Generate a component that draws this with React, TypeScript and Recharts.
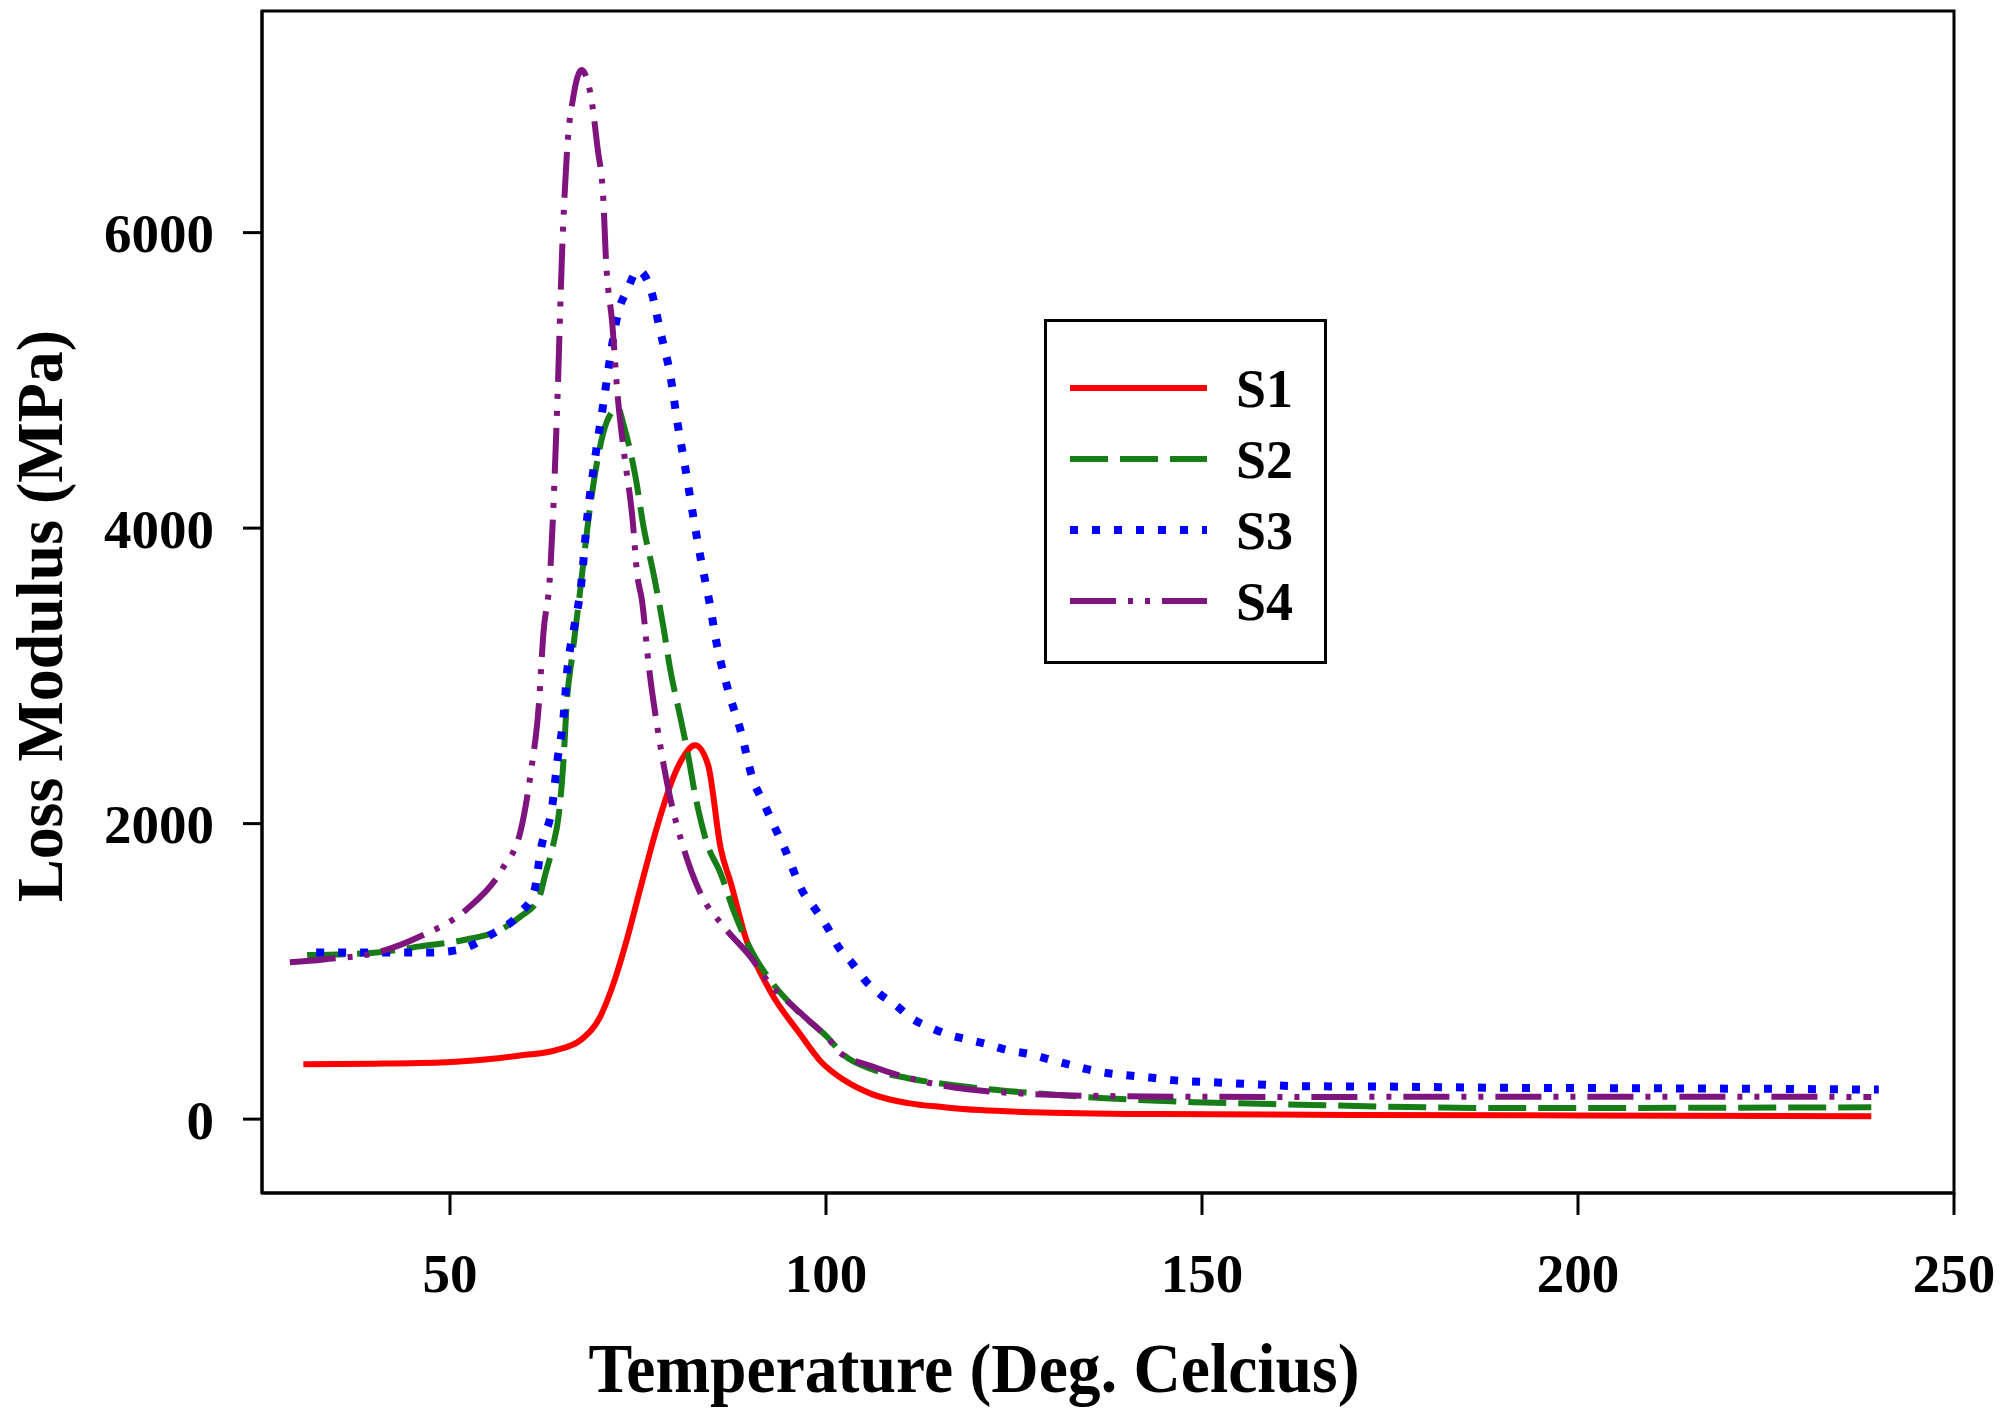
import { LineChart, Line, XAxis, YAxis, Legend, Label, ReferenceArea } from 'recharts'

// Temperature (deg C) and loss modulus (MPa) for each sample
const s1Temp = [30.5, 40, 49.5, 55, 59.5, 64, 67.5, 70, 71.7, 73.6, 75.1, 76.5, 77.9, 79.3, 80.8, 82.6, 84.3, 86, 87.4, 89.3, 92.6, 96.5, 99.4, 102.4, 106.1, 110.9, 115.7, 120.5, 127.5, 144, 170, 200, 239]
const s1Loss = [372, 375, 385, 405, 432, 466, 540, 696, 912, 1230, 1520, 1790, 2040, 2260, 2432, 2530, 2400, 1831, 1588, 1230, 865, 580, 385, 264, 169, 108, 81, 61, 47, 34, 28, 25, 20]

const s2Temp = [31, 40.3, 46, 52.2, 56.5, 59.4, 61.8, 62.7, 63.6, 64.5, 65.1, 65.5, 66.3, 67.2, 68.7, 69.6, 70.4, 71.7, 72.3, 73.1, 74.7, 75.7, 77.1, 78.4, 79.3, 80.3, 81.5, 82.7, 84.1, 86, 87.8, 90.2, 92.6, 96, 100.2, 102.4, 106.1, 110.9, 118.1, 127.5, 137.1, 149, 160.8, 191, 239]
const s2Loss = [1110, 1128, 1169, 1216, 1277, 1372, 1493, 1662, 1831, 2074, 2432, 2797, 3155, 3530, 4169, 4459, 4649, 4797, 4818, 4696, 4338, 4020, 3682, 3324, 3040, 2797, 2507, 2169, 1878, 1662, 1399, 1128, 939, 743, 554, 432, 338, 277, 223, 176, 142, 115, 100, 75, 80]

const s3Temp = [32.2, 40, 47.5, 50.8, 55.5, 59.4, 61.2, 62.1, 63.6, 64.3, 65.1, 65.6, 66.5, 67.4, 68.3, 69.1, 70.4, 71.3, 72.3, 73.6, 75, 76.7, 78, 79.3, 80.3, 81.3, 82.3, 83.3, 84.5, 85.5, 86.9, 88.8, 90.2, 91.7, 93.2, 94.5, 96.9, 98.6, 100.2, 101.6, 103.6, 105.2, 107.2, 109.3, 111.4, 113.8, 116.1, 118.7, 121.4, 124.2, 127.1, 130, 132.1, 134.7, 137.5, 140, 143, 146, 151.3, 157, 163, 175, 190, 208, 225, 240]
const s3Loss = [1128, 1128, 1128, 1142, 1250, 1399, 1540, 1831, 2122, 2432, 2723, 3040, 3324, 3600, 4095, 4405, 4845, 5155, 5446, 5615, 5745, 5615, 5324, 5034, 4696, 4405, 4095, 3804, 3500, 3209, 2919, 2601, 2311, 2142, 1973, 1831, 1540, 1419, 1297, 1169, 1047, 939, 845, 770, 682, 622, 574, 540, 507, 466, 440, 400, 372, 338, 311, 297, 282, 264, 250, 236, 223, 220, 212, 209, 205, 200]

const s4Temp = [28.7, 33.2, 40.3, 46, 52.2, 56.9, 59.4, 60.8, 61.8, 62.4, 63.3, 64.3, 64.9, 65.6, 66.4, 67.5, 68.9, 69.6, 70.4, 70.7, 71.6, 72.3, 73.1, 74.3, 74.9, 75.5, 76.5, 77.5, 79.3, 80.8, 83.2, 86.5, 89.8, 92.6, 96.5, 100.6, 101.8, 106.1, 113.3, 125, 139.4, 160, 190, 220, 239]
const s4Loss = [1061, 1081, 1128, 1236, 1419, 1689, 1953, 2365, 2797, 3277, 3682, 4892, 5858, 6581, 6919, 7100, 6872, 6581, 6216, 5858, 5372, 4892, 4527, 4047, 3682, 3520, 3040, 2676, 2169, 1878, 1540, 1297, 1108, 912, 723, 527, 453, 358, 250, 176, 155, 150, 152, 152, 150]

const xTicks = [50, 100, 150, 200, 250]
const yTicks = [0, 2000, 4000, 6000]

const FONT = "'Times New Roman', 'Liberation Serif', serif"

const toPoints = (temps: number[], values: number[]) =>
  temps.map((t, i) => ({ t, v: values[i] }))

const SERIES = [
  { name: 'S1', data: toPoints(s1Temp, s1Loss), color: '#ff0000', dash: undefined, width: 6 },
  { name: 'S2', data: toPoints(s2Temp, s2Loss), color: '#177d17', dash: '38 12', width: 6 },
  { name: 'S3', data: toPoints(s3Temp, s3Loss), color: '#0000ff', dash: '8 14', width: 8 },
  { name: 'S4', data: toPoints(s4Temp, s4Loss), color: '#7f147f', dash: '46 12 5 12 5 12', width: 6 },
]

// boxed legend, drawn in its own little svg
function LegendBox() {
  return (
    <svg width={283} height={345} style={{ display: 'block' }}>
      <rect x={1.5} y={1.5} width={280} height={342} fill="#fff" stroke="#000" strokeWidth={3} />
      {SERIES.map((s, i) => {
        const y = 69 + i * 71
        return (
          <g key={s.name}>
            <line x1={26} x2={163} y1={y} y2={y} stroke={s.color} strokeWidth={s.width} strokeDasharray={s.dash} />
            <text x={192} y={y + 19} fontFamily={FONT} fontWeight="bold" fontSize={54} fill="#000">
              {s.name}
            </text>
          </g>
        )
      })}
    </svg>
  )
}

const tickStyle = { fontFamily: FONT, fontWeight: 'bold', fontSize: 55, fill: '#000' }

export default function App() {
  return (
    <div>
      <style>{'body{margin:0}'}</style>
      <LineChart width={2004} height={1414} margin={{ top: 11, right: 50, bottom: 21, left: 62 }}>
        <XAxis
          type="number"
          dataKey="t"
          domain={[25, 250]}
          ticks={xTicks}
          allowDataOverflow
          height={200}
          tickSize={22}
          tickMargin={38}
          tick={tickStyle}
          axisLine={{ stroke: '#000', strokeWidth: 3 }}
          tickLine={{ stroke: '#000', strokeWidth: 3 }}
        >
          <Label
            content={() => (
              <text
                x={974}
                y={1392}
                textAnchor="middle"
                fontFamily={FONT}
                fontWeight="bold"
                fontSize={70}
                textLength={771}
                lengthAdjust="spacingAndGlyphs"
                fill="#000"
              >
                Temperature (Deg. Celcius)
              </text>
            )}
          />
        </XAxis>
        <YAxis
          type="number"
          domain={[-500, 7500]}
          ticks={yTicks}
          allowDataOverflow
          width={200}
          tickSize={19}
          tickMargin={29}
          tick={tickStyle}
          axisLine={{ stroke: '#000', strokeWidth: 3 }}
          tickLine={{ stroke: '#000', strokeWidth: 3 }}
        >
          <Label
            content={() => (
              <text
                x={62}
                y={616}
                transform="rotate(-90, 62, 616)"
                textAnchor="middle"
                fontFamily={FONT}
                fontWeight="bold"
                fontSize={66}
                textLength={572}
                lengthAdjust="spacingAndGlyphs"
                fill="#000"
              >
                Loss Modulus (MPa)
              </text>
            )}
          />
        </YAxis>
        <ReferenceArea x1={25} x2={250} y1={-500} y2={7500} fill="none" stroke="#000" strokeWidth={3} ifOverflow="visible" />
        {SERIES.map((s) => (
          <Line
            key={s.name}
            name={s.name}
            data={s.data}
            dataKey="v"
            type="monotone"
            stroke={s.color}
            strokeWidth={s.width}
            strokeDasharray={s.dash}
            dot={false}
            activeDot={false}
            isAnimationActive={false}
          />
        ))}
        <Legend
          layout="vertical"
          align="center"
          verticalAlign="middle"
          content={() => <LegendBox />}
          wrapperStyle={{ position: 'absolute', left: 1044, top: 319, width: 283, height: 345 }}
        />
      </LineChart>
    </div>
  )
}
